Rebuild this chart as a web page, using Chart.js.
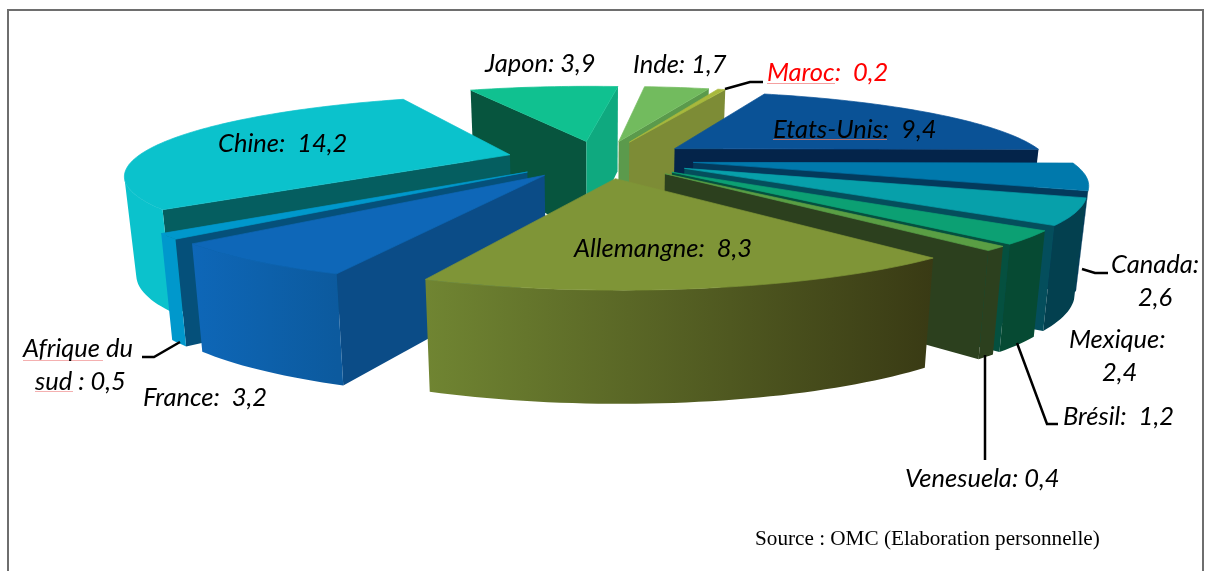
<!DOCTYPE html>
<html>
<head>
<meta charset="utf-8">
<script src="https://cdn.jsdelivr.net/npm/chart.js@4"></script>
<style>
  html, body { margin: 0; padding: 0; background: #fff; }
  canvas { display: block; }
</style>
</head>
<body>
<canvas id="pie" width="1205" height="571"></canvas>
<script>
const categories = ['Etats-Unis', 'Canada', 'Mexique', 'Brésil', 'Venesuela', 'Allemangne', 'France', 'Afrique du sud', 'Chine', 'Japon', 'Inde', 'Maroc'];
const values = [9.4, 2.6, 2.4, 1.2, 0.4, 8.3, 3.2, 0.5, 14.2, 3.9, 1.7, 0.2];

const topColors = ['#0A5296', '#0079AC', '#07A0AA', '#0CA073', '#5A9E44', '#7F9537', '#0E67B8', '#0098CC', '#0BC2CC', '#10C190', '#72BB5E', '#A8B83C'];
const startWallColors = ['#04244A', '#033A5C', '#044E5C', '#05503F', '#2C401E', '#5F7029', '#0B4C87', '#05507A', '#055E60', '#07553E', '#5B9A4C', '#7D8C36'];
const endWallColors = ['#04244A', '#033A5C', '#044E5C', '#05503F', '#2C401E', '#5F7029', '#0B4C87', '#05507A', '#055E60', '#0FA97F', '#5B9A4C', '#7D8C36'];
const rimLeftColors = ['#04244A', '#023F52', '#03404F', '#064A33', '#2C401E', '#708532', '#0E67B8', '#0098CC', '#0BC2CC', '#0FA97F', '#5B9A4C', '#7D8C36'];
const rimRightColors = ['#04244A', '#023F52', '#03404F', '#064A33', '#2C401E', '#393A14', '#0C5A9E', '#0098CC', '#0BC2CC', '#0FA97F', '#5B9A4C', '#7D8C36'];

// label text, one entry per block of text: lines, left x of each line, baseline of first line, colour
const labels = [
  { lines: ['Japon: 3,9'], x: [485], y: 72 },
  { lines: ['Inde: 1,7'], x: [633], y: 73 },
  { lines: ['Maroc:  0,2'], x: [767], y: 81, color: '#FF0000' },
  { lines: ['Etats-Unis:  9,4'], x: [773], y: 138 },
  { lines: ['Chine:  14,2'], x: [218], y: 152 },
  { lines: ['Allemangne:  8,3'], x: [574], y: 257 },
  { lines: ['Canada:', '2,6'], x: [1111, 1138], y: 273 },
  { lines: ['Mexique:', '2,4'], x: [1069, 1102], y: 348 },
  { lines: ['Brésil:  1,2'], x: [1063], y: 425 },
  { lines: ['Venesuela: 0,4'], x: [905], y: 487 },
  { lines: ['Afrique du', 'sud : 0,5'], x: [23, 35], y: 357 },
  { lines: ['France:  3,2'], x: [143], y: 406 }
];

const leaders = [
  [[725, 89], [750, 82], [763, 82]],
  [[1082, 269], [1095, 273], [1108, 273]],
  [[1017, 343], [1047, 424], [1058, 424]],
  [[985, 355], [985, 460]],
  [[142, 357], [154, 357], [180, 342]]
];

// spell checker marks that show in the source picture
const squiggles = [
  [773, 887, 139, '#B07070'],
  [767, 835, 83, '#F4A0A0'],
  [23, 103, 360, '#F4B0B0'],
  [35, 73, 391, '#F4B0B0']
];

// camera for the fake 3d look
const view = { cx: 600, cy: 159, radius: 375, squash: 0.2, persp: 0.23, depth: 96, explode: 0.25, sink: 0.025 };

function project(px, py, z) {
  const k = 1 / (1 - view.persp * py);
  const kz = 1 - view.sink * z;
  return [
    view.cx + view.radius * px * k * kz,
    view.cy + view.radius * view.squash * py * k + z * view.depth * Math.sqrt(k)
  ];
}

function fillPoly(ctx, pts, style, seal) {
  ctx.beginPath();
  pts.forEach((p, i) => i ? ctx.lineTo(p[0], p[1]) : ctx.moveTo(p[0], p[1]));
  ctx.closePath();
  ctx.fillStyle = style;
  ctx.fill();
  if (seal) {
    ctx.strokeStyle = style;
    ctx.lineWidth = 0.7;
    ctx.stroke();
  }
}

function polyArea(pts) {
  let a = 0;
  pts.forEach((p, i) => {
    const q = pts[(i + 1) % pts.length];
    a += p[0] * q[1] - q[0] * p[1];
  });
  return a;
}

function drawSlice(ctx, arc, i) {
  const mid = (arc.startAngle + arc.endAngle) / 2;
  const ox = Math.cos(mid) * view.explode;
  const oy = Math.sin(mid) * view.explode;
  const steps = Math.max(4, Math.ceil((arc.endAngle - arc.startAngle) * 40));
  const rim = [];
  for (let s = 0; s <= steps; s++) {
    const a = arc.startAngle + (arc.endAngle - arc.startAngle) * s / steps;
    rim.push([ox + Math.cos(a), oy + Math.sin(a)]);
  }
  const apex = [ox, oy];
  const top = p => project(p[0], p[1], 0);
  const bot = p => project(p[0], p[1], 1);

  // radial walls, only the ones turned towards us
  const first = [top(apex), top(rim[0]), bot(rim[0]), bot(apex)];
  const last = [top(rim[steps]), top(apex), bot(apex), bot(rim[steps])];
  if (polyArea(first) < 0) fillPoly(ctx, first, startWallColors[i]);
  if (polyArea(last) < 0) fillPoly(ctx, last, endWallColors[i]);

  // curved outer wall, one polygon per run of rim segments facing us
  const xs = rim.map(p => top(p)[0]);
  const grad = ctx.createLinearGradient(Math.min(...xs), 0, Math.max(...xs), 0);
  grad.addColorStop(0, rimLeftColors[i]);
  grad.addColorStop(1, rimRightColors[i]);
  let run = [];
  const flush = () => {
    if (run.length > 1) {
      fillPoly(ctx, run.map(top).concat(run.slice().reverse().map(bot)), grad);
    }
    run = [];
  };
  for (let s = 0; s < steps; s++) {
    const quad = [top(rim[s]), top(rim[s + 1]), bot(rim[s + 1]), bot(rim[s])];
    if (polyArea(quad) < 0) {
      if (!run.length) run.push(rim[s]);
      run.push(rim[s + 1]);
    } else {
      flush();
    }
  }
  flush();

  fillPoly(ctx, [top(apex)].concat(rim.map(top)), arc.options.backgroundColor, true);
}

const pie3d = {
  id: 'pie3d',
  beforeDatasetsDraw(chart) {
    const ctx = chart.ctx;
    const arcs = chart.getDatasetMeta(0).data;
    const order = arcs.map((arc, i) => ({ arc, i, d: Math.sin((arc.startAngle + arc.endAngle) / 2) }));
    order.sort((a, b) => a.d - b.d);
    ctx.save();
    order.forEach(o => drawSlice(ctx, o.arc, o.i));
    ctx.restore();
    return false;
  },
  afterDraw(chart) {
    const ctx = chart.ctx;
    ctx.save();
    // frame
    ctx.strokeStyle = '#6E6E6E';
    ctx.lineWidth = 2;
    ctx.beginPath();
    ctx.moveTo(8, 571);
    ctx.lineTo(8, 10);
    ctx.lineTo(1203, 10);
    ctx.lineTo(1203, 571);
    ctx.stroke();

    ctx.strokeStyle = '#000';
    ctx.lineWidth = 2.5;
    leaders.forEach(line => {
      ctx.beginPath();
      line.forEach((p, i) => i ? ctx.lineTo(p[0], p[1]) : ctx.moveTo(p[0], p[1]));
      ctx.stroke();
    });

    ctx.lineWidth = 1;
    squiggles.forEach(s => {
      ctx.strokeStyle = s[3];
      ctx.beginPath();
      ctx.moveTo(s[0], s[2] + 0.5);
      ctx.lineTo(s[1], s[2] + 0.5);
      ctx.stroke();
    });

    ctx.font = 'italic 25.5px Lato';
    ctx.textBaseline = 'alphabetic';
    labels.forEach(l => {
      ctx.fillStyle = l.color || '#000';
      l.lines.forEach((t, j) => ctx.fillText(t, l.x[j], l.y + j * 33));
    });
    ctx.fillStyle = '#000';
    ctx.font = '21.2px "Liberation Serif"';
    ctx.fillText('Source : OMC (Elaboration personnelle)', 755, 545);
    ctx.restore();
  }
};

new Chart(document.getElementById('pie'), {
  type: 'pie',
  data: {
    labels: categories,
    datasets: [{ data: values, backgroundColor: topColors, borderWidth: 0 }]
  },
  options: {
    responsive: false,
    animation: false,
    rotation: 20,
    plugins: { legend: { display: false }, tooltip: { enabled: false } }
  },
  plugins: [pie3d]
});
</script>
</body>
</html>
